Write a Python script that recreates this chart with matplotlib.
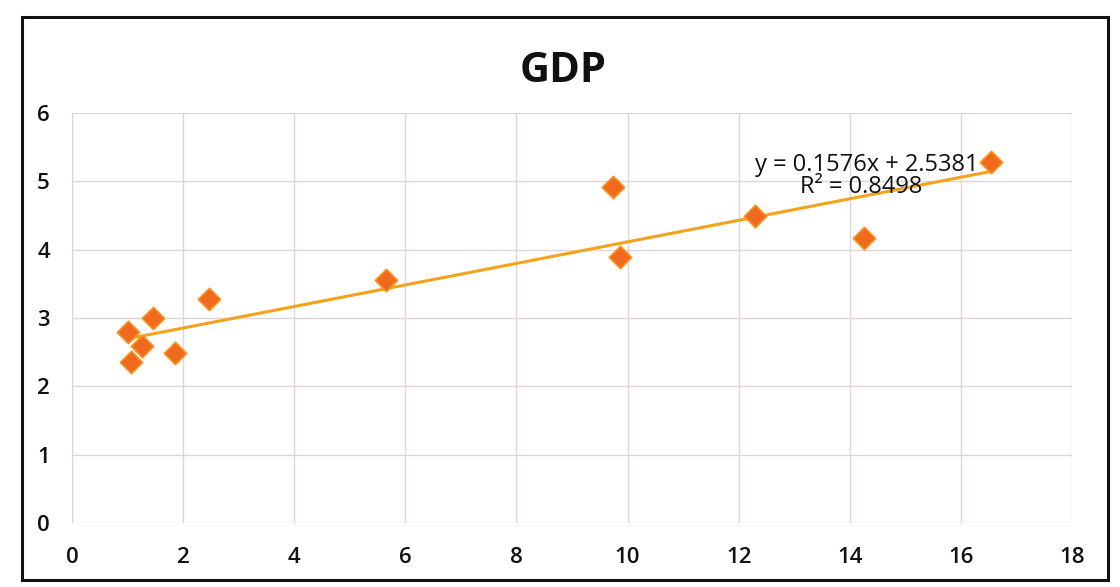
import numpy as np
import matplotlib.pyplot as plt
from matplotlib.patches import Rectangle

# GDP observations
x_vals = [1.00, 1.06, 1.26, 1.46, 1.86, 2.46, 5.66, 9.74, 9.87, 12.30, 14.25, 16.55]
y_vals = [2.79, 2.35, 2.59, 3.00, 2.49, 3.28, 3.56, 4.91, 3.90, 4.49, 4.17, 5.29]

# linear trendline
slope = 0.1576
intercept = 2.5381
r_squared = 0.8498

x_ticks = [0, 2, 4, 6, 8, 10, 12, 14, 16, 18]
y_ticks = [0, 1, 2, 3, 4, 5, 6]

plt.rcParams['font.family'] = ['Open Sans', 'DejaVu Sans']

fig = plt.figure(figsize=(11.2, 5.87), dpi=100)
ax = fig.add_axes([72 / 1120, 1 - 523 / 587, 1000 / 1120, 410 / 587])

# chart area border
fig.patches.append(Rectangle((22 / 1120, 7 / 587), 1086 / 1120, 563 / 587,
                             transform=fig.transFigure, fill=False,
                             edgecolor='#111111', linewidth=2.2))

ax.set_xlim(0, 18)
ax.set_ylim(0, 6)
ax.set_xticks(x_ticks)
ax.set_yticks(y_ticks)
ax.grid(True, color='#e0d4d8', linewidth=1.0)
ax.set_axisbelow(True)
for s in ax.spines.values():
    s.set_visible(False)
ax.tick_params(length=0, labelsize=16, colors='#111111')
ax.tick_params(axis='x', pad=17)
ax.tick_params(axis='y', pad=16)
for lbl in ax.get_xticklabels() + ax.get_yticklabels():
    lbl.set_fontweight('semibold')

xs = np.array([min(x_vals), max(x_vals)])
ax.plot(xs, slope * xs + intercept, color='#f5a21b', linewidth=2.2, zorder=2)

ax.scatter(x_vals, y_vals, marker='D', s=130, color='#f06a1e',
           edgecolors='#f7931e', linewidths=1.2, zorder=3)

ax.text(14.3, 5.24, f"y = {slope}x + {intercept}", fontsize=17,
        ha='center', va='center', color='#111111', zorder=4)
ax.text(14.2, 4.92, f"R² = {r_squared}", fontsize=17,
        ha='center', va='center', color='#111111', zorder=4)

fig.text(563 / 1120, 1 - 72 / 587, "GDP", fontsize=30, fontweight='bold',
         ha='center', va='center', color='#111111')

fig.savefig('out.png', dpi=100, facecolor='white')
